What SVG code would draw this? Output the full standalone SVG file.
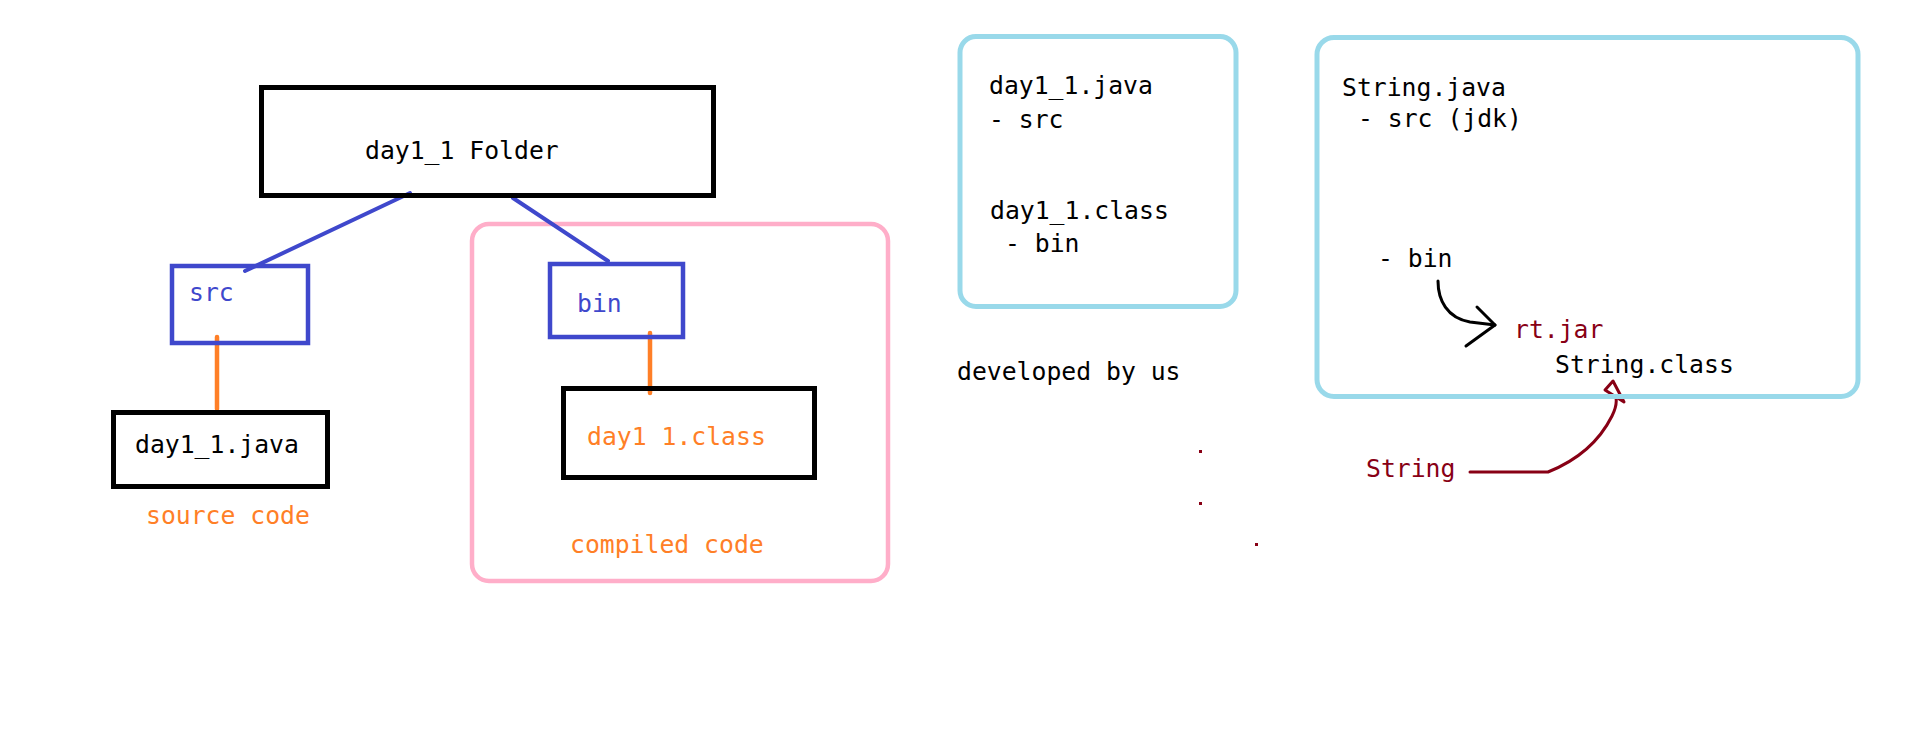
<svg xmlns="http://www.w3.org/2000/svg" width="1914" height="734" viewBox="0 0 1914 734">
<style>
text{font-family:"DejaVu Sans Mono","Liberation Mono",monospace;font-size:24.75px;fill:#000}
.blk{fill:none;stroke:#000;stroke-width:5}
.blu{fill:none;stroke:#3f48cc;stroke-width:4.5}
.pnk{fill:none;stroke:#ffaec9;stroke-width:4.5}
.lbl{fill:none;stroke:#99d9ea;stroke-width:5}
.bt{fill:#3f48cc}
.ot{fill:#ff7f27}
.rt{fill:#880015}
.ln-b{stroke:#3f48cc;stroke-width:4;stroke-linecap:round;fill:none}
.ln-o{stroke:#ff7f27;stroke-width:4.5;stroke-linecap:round;fill:none}
.ln-k{stroke:#000;stroke-width:3;stroke-linecap:round;stroke-linejoin:round;fill:none}
.ln-r{stroke:#880015;stroke-width:3;stroke-linecap:round;stroke-linejoin:round;fill:none}
</style>
<rect width="1914" height="734" fill="#fff"/>
<g id="compiled-group">
<rect class="pnk" x="472" y="224" width="416" height="357" rx="17"/>
<text class="ot" x="570" y="553">compiled code</text>
</g>
<g id="connectors">
<line class="ln-b" x1="410" y1="193" x2="245" y2="271"/>
<line class="ln-b" x1="513" y1="198" x2="608" y2="261"/>
<line class="ln-o" x1="217" y1="337" x2="217" y2="409"/>
<line class="ln-o" x1="650" y1="333" x2="650" y2="393"/>
<path class="ln-k" d="M1438,281 C1438,300 1447,318 1470,322 L1495,325"/>
<path class="ln-k" d="M1477,307 L1495,325 L1466,346"/>
<path class="ln-r" d="M1470,472 L1548,472 C1578,460 1600,440 1612,416 C1616,408 1617,404 1616,398"/>
<path class="ln-r" d="M1613,381 L1605,390 L1624,402 Z"/>
</g>
<g id="folder">
<rect class="blk" x="261.5" y="87.5" width="452" height="108"/>
<text x="365" y="159">day1_1 Folder</text>
</g>
<g id="src">
<rect class="blu" x="172" y="266" width="136" height="77"/>
<text class="bt" x="189" y="301">src</text>
</g>
<g id="bin">
<rect class="blu" x="550" y="264" width="133" height="73"/>
<text class="bt" x="577" y="312">bin</text>
</g>
<g id="java">
<rect class="blk" x="113.5" y="412.5" width="214" height="74"/>
<text x="135" y="453">day1_1.java</text>
<text class="ot" x="146" y="524">source code</text>
</g>
<g id="class">
<rect class="blk" x="563.5" y="388.5" width="251" height="89"/>
<text class="ot" x="587" y="445">day1 1.class</text>
</g>
<g id="ours">
<rect class="lbl" x="960" y="36.5" width="276" height="270" rx="16"/>
<text x="989" y="94">day1_1.java</text>
<text x="989" y="128">- src</text>
<text x="990" y="219">day1_1.class</text>
<text x="1005" y="252">- bin</text>
<text x="957" y="380">developed by us</text>
</g>
<g id="jdk">
<rect class="lbl" x="1317" y="37.5" width="541" height="359" rx="17"/>
<text x="1342" y="96">String.java</text>
<text x="1358" y="127">- src (jdk)</text>
<text x="1378" y="267">- bin</text>
<text class="rt" x="1514" y="338">rt.jar</text>
<text x="1555" y="373">String.class</text>
</g>
<g id="string">
<text class="rt" x="1366" y="477">String</text>
</g>
<g id="dots" fill="#880015">
<rect x="1199" y="450" width="3" height="3"/>
<rect x="1199" y="502" width="3" height="3"/>
<rect x="1255" y="543" width="3" height="3"/>
</g>
</svg>
